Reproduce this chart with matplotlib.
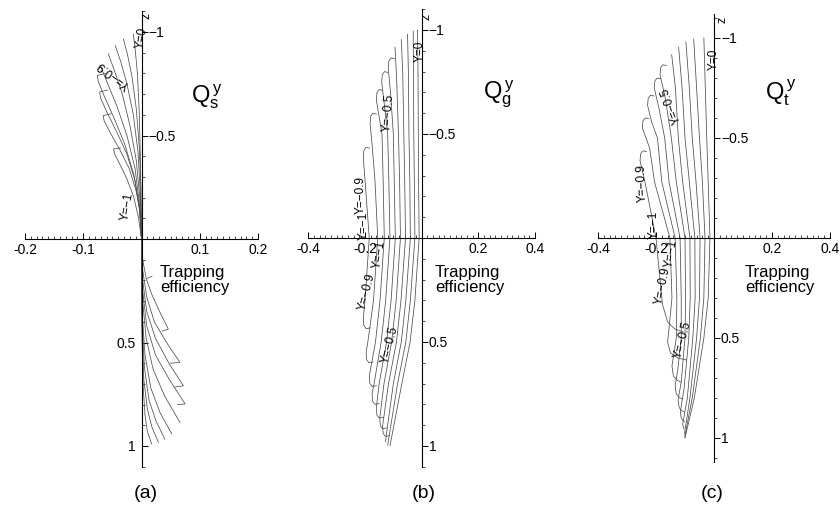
import matplotlib
matplotlib.use("Agg")
import matplotlib.pyplot as plt
from matplotlib.ticker import MultipleLocator

plt.rcParams['font.family'] = ['Liberation Sans', 'DejaVu Sans']

# ---- panel (a): Q_s^y, curves (x = trapping efficiency, z) ----
a_up_x = [
    [-0.014, -0.011, -0.007, -0.004, -0.002, 0.0],
    [-0.031, -0.024, -0.016, -0.009, -0.004, -0.001, 0.0],
    [-0.045, -0.036, -0.025, -0.014, -0.006, -0.002, 0.0],
    [-0.057, -0.046, -0.033, -0.020, -0.009, -0.003, 0.0],
    [-0.071, -0.058, -0.042, -0.025, -0.011, -0.004, 0.0],
    [-0.062, -0.076, -0.074, -0.064, -0.048, -0.029, -0.013, -0.004, 0.0],
    [-0.058, -0.072, -0.070, -0.059, -0.043, -0.025, -0.011, -0.003, 0.0],
    [-0.052, -0.066, -0.064, -0.053, -0.037, -0.021, -0.009, -0.002, 0.0],
    [-0.036, -0.048, -0.046, -0.037, -0.025, -0.013, -0.005, 0.0],
]
a_up_z = [
    [-0.99, -0.92, -0.80, -0.62, -0.40, 0.0],
    [-0.966, -0.89, -0.78, -0.63, -0.45, -0.25, 0.0],
    [-0.934, -0.86, -0.75, -0.60, -0.42, -0.22, 0.0],
    [-0.894, -0.81, -0.70, -0.55, -0.38, -0.20, 0.0],
    [-0.84, -0.75, -0.64, -0.50, -0.34, -0.18, 0.0],
    [-0.80, -0.79, -0.76, -0.69, -0.59, -0.46, -0.31, -0.16, 0.0],
    [-0.72, -0.71, -0.68, -0.61, -0.52, -0.41, -0.28, -0.14, 0.0],
    [-0.605, -0.596, -0.57, -0.51, -0.43, -0.34, -0.23, -0.12, 0.0],
    [-0.44, -0.435, -0.41, -0.36, -0.29, -0.20, -0.10, 0.0],
]
a_lo_x = [
    [0.0, 0.001, 0.003, 0.006, 0.010, 0.0175],
    [0.0, 0.001, 0.004, 0.010, 0.018, 0.029],
    [0.0, 0.001, 0.005, 0.013, 0.025, 0.040],
    [0.0, 0.001, 0.006, 0.016, 0.032, 0.052],
    [0.0, 0.002, 0.008, 0.020, 0.040, 0.066],
    [0.0, 0.002, 0.009, 0.024, 0.048, 0.075, 0.062],
    [0.0, 0.002, 0.009, 0.024, 0.047, 0.072, 0.058],
    [0.0, 0.002, 0.009, 0.022, 0.043, 0.066, 0.050],
    [0.0, 0.002, 0.008, 0.018, 0.031, 0.046, 0.036],
    [0.010, 0.018],
]
a_lo_z = [
    [0.0, 0.50, 0.72, 0.85, 0.93, 0.99],
    [0.0, 0.45, 0.68, 0.82, 0.91, 0.982],
    [0.0, 0.40, 0.62, 0.78, 0.88, 0.966],
    [0.0, 0.35, 0.56, 0.72, 0.84, 0.942],
    [0.0, 0.30, 0.48, 0.63, 0.76, 0.886],
    [0.0, 0.25, 0.42, 0.56, 0.68, 0.797, 0.80],
    [0.0, 0.20, 0.35, 0.48, 0.60, 0.709, 0.715],
    [0.0, 0.15, 0.28, 0.40, 0.50, 0.596, 0.60],
    [0.0, 0.10, 0.19, 0.27, 0.35, 0.435, 0.445],
    [0.19, 0.18],
]

# ---- panel (b): Q_g^y ----
b_x = [
    [-0.015, -0.013, -0.012, -0.011, -0.009, -0.024, -0.041, -0.070, -0.112],
    [-0.030, -0.029, -0.028, -0.026, -0.024, -0.040, -0.056, -0.085, -0.120],
    [-0.050, -0.047, -0.045, -0.042, -0.040, -0.056, -0.072, -0.100, -0.128],
    [-0.072, -0.067, -0.063, -0.060, -0.057, -0.073, -0.089, -0.117, -0.138, -0.136, -0.128, -0.113],
    [-0.094, -0.088, -0.082, -0.078, -0.075, -0.090, -0.106, -0.133, -0.148, -0.146, -0.138, -0.123],
    [-0.096, -0.108, -0.116, -0.118, -0.110, -0.100, -0.097, -0.093, -0.108, -0.124, -0.150,
     -0.160, -0.158, -0.150, -0.135],
    [-0.119, -0.131, -0.139, -0.141, -0.130, -0.120, -0.116, -0.112, -0.127, -0.143, -0.168,
     -0.175, -0.173, -0.165, -0.150],
    [-0.138, -0.150, -0.158, -0.160, -0.140, -0.136, -0.132, -0.147, -0.163,
     -0.185, -0.183, -0.175, -0.160],
    [-0.160, -0.172, -0.180, -0.182, -0.175, -0.165, -0.155, -0.170, -0.190,
     -0.196, -0.194, -0.186, -0.171],
    [-0.184, -0.196, -0.204, -0.206, -0.200, -0.185, -0.200,
     -0.206, -0.204, -0.196, -0.181],
]
b_z = [
    [-1.0, -0.8, -0.5, -0.28, 0.0, 0.3, 0.5, 0.7, 1.0],
    [-0.995, -0.8, -0.5, -0.28, 0.0, 0.3, 0.5, 0.7, 0.995],
    [-0.98, -0.8, -0.5, -0.28, 0.0, 0.3, 0.5, 0.7, 0.98],
    [-0.954, -0.8, -0.5, -0.28, 0.0, 0.3, 0.5, 0.7, 0.904, 0.939, 0.954, 0.95],
    [-0.917, -0.75, -0.5, -0.28, 0.0, 0.3, 0.5, 0.7, 0.867, 0.902, 0.917, 0.913],
    [-0.862, -0.866, -0.851, -0.816, -0.7, -0.5, -0.28, 0.0, 0.3, 0.5, 0.7,
     0.816, 0.851, 0.866, 0.862],
    [-0.796, -0.80, -0.785, -0.75, -0.62, -0.5, -0.28, 0.0, 0.3, 0.5, 0.7,
     0.75, 0.785, 0.80, 0.796],
    [-0.71, -0.714, -0.699, -0.664, -0.5, -0.28, 0.0, 0.3, 0.5,
     0.664, 0.699, 0.714, 0.71],
    [-0.596, -0.60, -0.585, -0.55, -0.45, -0.28, 0.0, 0.3, 0.5,
     0.55, 0.585, 0.60, 0.596],
    [-0.432, -0.436, -0.421, -0.386, -0.28, 0.0, 0.3,
     0.386, 0.421, 0.436, 0.432],
]

# ---- panel (c): Q_t^y ----
c_x = [
    [-0.035, -0.030, -0.025, -0.020, -0.014, -0.020, -0.035, -0.068, -0.100],
    [-0.070, -0.060, -0.050, -0.040, -0.031, -0.035, -0.047, -0.075, -0.101],
    [-0.097, -0.085, -0.075, -0.062, -0.048, -0.050, -0.060, -0.083, -0.102],
    [-0.122, -0.110, -0.100, -0.085, -0.066, -0.065, -0.073, -0.092, -0.108, -0.104],
    [-0.146, -0.133, -0.123, -0.108, -0.083, -0.082, -0.087, -0.103, -0.116, -0.113, -0.108, -0.101],
    [-0.164, -0.176, -0.184, -0.186, -0.168, -0.147, -0.130, -0.100, -0.098, -0.100, -0.113,
     -0.124, -0.120, -0.113, -0.104],
    [-0.184, -0.196, -0.204, -0.206, -0.190, -0.170, -0.155, -0.117, -0.113, -0.113, -0.125,
     -0.134, -0.130, -0.120, -0.109],
    [-0.207, -0.219, -0.227, -0.229, -0.215, -0.195, -0.180, -0.134, -0.128, -0.130,
     -0.145, -0.140, -0.128, -0.115],
    [-0.225, -0.237, -0.245, -0.247, -0.222, -0.205, -0.152, -0.145, -0.155,
     -0.160, -0.150, -0.125, -0.094],
    [-0.233, -0.245, -0.253, -0.255, -0.238, -0.200, -0.190, -0.178,
     -0.160, -0.135, -0.106],
]
c_z = [
    [-1.0, -0.75, -0.5, -0.28, 0.0, 0.3, 0.5, 0.8, 1.0],
    [-0.995, -0.75, -0.5, -0.28, 0.0, 0.3, 0.5, 0.8, 0.995],
    [-0.98, -0.75, -0.5, -0.28, 0.0, 0.3, 0.5, 0.8, 0.98],
    [-0.954, -0.75, -0.5, -0.28, 0.0, 0.3, 0.5, 0.8, 0.93, 0.954],
    [-0.917, -0.75, -0.5, -0.28, 0.0, 0.3, 0.5, 0.75, 0.87, 0.90, 0.912, 0.917],
    [-0.862, -0.866, -0.851, -0.816, -0.7, -0.5, -0.28, 0.0, 0.3, 0.5, 0.72,
     0.81, 0.848, 0.862, 0.868],
    [-0.796, -0.80, -0.785, -0.75, -0.65, -0.5, -0.28, 0.0, 0.3, 0.5, 0.66,
     0.74, 0.78, 0.797, 0.805],
    [-0.71, -0.714, -0.699, -0.664, -0.58, -0.5, -0.28, 0.0, 0.3, 0.5,
     0.64, 0.69, 0.71, 0.72],
    [-0.596, -0.60, -0.585, -0.55, -0.45, -0.28, 0.0, 0.3, 0.45,
     0.52, 0.575, 0.60, 0.61],
    [-0.432, -0.436, -0.421, -0.386, -0.28, 0.0, 0.15, 0.33,
     0.42, 0.455, 0.47],
]

# curve labels: text, x, z, rotation
a_labels = [('Y=0', 0.0, -0.975, 80), ('Y=−0.9', -0.048, -0.797, 142), ('Y=−1', -0.025, -0.16, 80)]
b_labels = [('Y=0', -0.006, -0.90, 90), ('Y=−0.5', -0.118, -0.605, 85),
            ('Y=−0.9', -0.214, -0.212, 90), ('Y=−1', -0.205, -0.063, 90),
            ('Y=−1', -0.15, 0.077, 80), ('Y=−0.9', -0.194, 0.253, 75),
            ('Y=−0.5', -0.112, 0.51, 75)]
c_labels = [('Y=0', 0.0, -0.90, 90), ('Y=−0.5', -0.149, -0.67, 111),
            ('Y=−0.9', -0.249, -0.278, 92), ('Y=−1', -0.209, -0.07, 90),
            ('Y=−1', -0.146, 0.072, 80), ('Y=−0.9', -0.175, 0.234, 78),
            ('Y=−0.5', -0.109, 0.505, 75)]

fig = plt.figure(figsize=(8.4, 5.1), dpi=100)


def make_axes(rect, xmax, zmax, xticks, xlabels, xminor):
    ax = fig.add_axes(rect)
    ax.patch.set_visible(False)
    ax.set_xlim(-xmax, xmax)
    ax.set_ylim(zmax, -zmax)
    ax.spines['top'].set_visible(False)
    ax.spines['right'].set_visible(False)
    ax.spines['left'].set_position(('data', 0))
    ax.spines['bottom'].set_position(('data', 0))
    ax.spines['left'].set_linewidth(0.8)
    ax.spines['bottom'].set_linewidth(0.8)
    ax.set_xticks(xticks)
    ax.set_xticklabels(xlabels, fontsize=10)
    ax.xaxis.set_minor_locator(MultipleLocator(xminor))
    ax.set_yticks([-1, -0.5, 0.5, 1])
    ax.set_yticklabels([])
    ax.yaxis.set_minor_locator(MultipleLocator(0.1))
    ax.tick_params(which='major', direction='in', length=4, width=0.7)
    ax.tick_params(which='minor', direction='in', length=2, width=0.5)
    ax.tick_params(axis='x', pad=2)
    return ax


def zlabels(ax, lower_left):
    for v, s in [(-1, '−1'), (-0.5, '−0.5')]:
        ax.annotate(s, (0, v), xytext=(5, 0), textcoords='offset points',
                    ha='left', va='center', fontsize=10)
    for v, s in [(0.5, '0.5'), (1, '1')]:
        if lower_left:
            ax.annotate(s, (0, v), xytext=(-4, 0), textcoords='offset points',
                        ha='right', va='center', fontsize=10)
        else:
            ax.annotate(s, (0, v), xytext=(5, 0), textcoords='offset points',
                        ha='left', va='center', fontsize=10)


def curve_labels(ax, labels):
    for s, x, z, r in labels:
        ax.text(x, z, s, rotation=r, fontsize=8.5, ha='center', va='center',
                rotation_mode='anchor')


lc = '0.3'
lw = 0.55

# panel (a)
ax_a = make_axes([25 / 840, 42.3 / 510, 233 / 840, 455.4 / 510], 0.2, 1.1,
                 [-0.2, -0.1, 0.1, 0.2], ['-0.2', '-0.1', '0.1', '0.2'], 0.01)
for xs, zs in zip(a_up_x, a_up_z):
    ax_a.plot(xs, zs, color=lc, lw=lw)
for xs, zs in zip(a_lo_x, a_lo_z):
    ax_a.plot(xs, zs, color=lc, lw=lw)
zlabels(ax_a, True)
curve_labels(ax_a, a_labels)

# panel (b)
ax_b = make_axes([308.3 / 840, 42.2 / 510, 226.8 / 840, 457.6 / 510], 0.4, 1.1,
                 [-0.4, -0.2, 0.2, 0.4], ['-0.4', '-0.2', '0.2', '0.4'], 0.02)
for xs, zs in zip(b_x, b_z):
    ax_b.plot(xs, zs, color=lc, lw=lw)
zlabels(ax_b, False)
curve_labels(ax_b, b_labels)

# panel (c)
ax_c = make_axes([598 / 840, 47 / 510, 232 / 840, 448 / 510], 0.4, 1.12,
                 [-0.4, -0.2, 0.2, 0.4], ['-0.4', '-0.2', '0.2', '0.4'], 0.02)
for xs, zs in zip(c_x, c_z):
    ax_c.plot(xs, zs, color=lc, lw=lw)
zlabels(ax_c, False)
curve_labels(ax_c, c_labels)

# texts placed in figure pixels
def ftext(px, py, s, **kw):
    fig.text(px / 840, 1 - py / 510, s, **kw)

for px, py in [(146, 16), (426, 17), (722, 20)]:
    ftext(px, py, 'z', rotation=90, ha='center', va='center', fontsize=9)

ftext(191, 103, r'$\mathregular{Q_s^{\,y}}$', fontsize=17, ha='left', va='baseline')
ftext(483, 98, r'$\mathregular{Q_g^{\,y}}$', fontsize=17, ha='left', va='baseline')
ftext(765, 100, r'$\mathregular{Q_t^{\,y}}$', fontsize=17, ha='left', va='baseline')

for px in [160, 435, 745]:
    ftext(px, 265, 'Trapping\nefficiency', fontsize=12, ha='left', va='top',
          linespacing=1.0)

ftext(146, 494, '(a)', fontsize=14, ha='center', va='center')
ftext(424, 494, '(b)', fontsize=14, ha='center', va='center')
ftext(712, 494, '(c)', fontsize=14, ha='center', va='center')

fig.savefig('out.png', dpi=100)
